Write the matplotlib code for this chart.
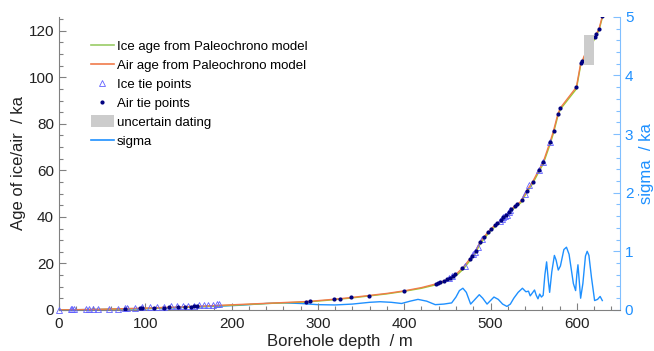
import numpy as np
import matplotlib
matplotlib.use('Agg')
import matplotlib.pyplot as plt
from matplotlib.patches import Patch
from matplotlib.lines import Line2D
from matplotlib.ticker import MultipleLocator

plt.rcParams['font.family'] = ['Liberation Sans', 'DejaVu Sans']

# age model (air), depth in m, age in ka
model_depth = [0, 50, 100, 150, 200, 250, 286, 300, 319, 338, 359, 380, 400, 420, 439,
               450, 457, 462, 467.5, 472, 477, 481.5, 488, 496, 502, 511.6, 521, 527,
               535, 542.5, 549, 556, 561, 568.8, 572.7, 578, 581, 599.5, 604.5, 606.4,
               608.3, 614, 620.9, 623, 625.6, 629.5]
air_age = [0, 0.3, 0.8, 1.4, 2.2, 3.0, 3.6, 4.0, 4.6, 5.3, 6.2, 7.1, 8.2, 9.6, 11.4,
           13.1, 14.6, 16.0, 18.0, 20.0, 22.4, 24.5, 29.2, 33.0, 35.4, 38.3, 41.9, 44.3,
           46.6, 51.6, 55.2, 60.2, 63.5, 72.0, 76.6, 84.2, 86.9, 95.8, 106.1, 107.1,
           109.0, 113.0, 117.3, 119.0, 120.7, 126.2]
ice_age = [0, 0.2, 0.6, 1.2, 2.0, 2.9, 3.4, 3.8, 4.4, 5.1, 6.0, 6.9, 8.0, 9.3, 11.0,
           12.6, 14.0, 15.3, 17.2, 19.2, 21.6, 23.8, 28.3, 32.2, 34.7, 37.7, 41.2, 43.6,
           46.0, 50.8, 54.4, 59.4, 62.7, 71.0, 75.7, 83.3, 86.3, 95.0, 105.3, 106.5,
           108.4, 112.4, 116.6, 118.4, 120.1, 125.6]

# ice tie points
ice_tie_depth = [0, 13.9, 15.8, 17.8, 32, 35, 39, 45.6, 58, 68, 76.6, 78.5, 88, 96,
                 105.6, 114, 122, 129.5, 136.5, 143.4, 150, 156.6, 162.8, 168.2, 173.2,
                 178.3, 183.7, 185.6,
                 452, 455, 470, 480, 482, 485, 490, 511, 513, 515, 517, 519, 521, 523,
                 540, 544.5, 556, 560.5, 568.5]
ice_tie_age = [0, 0.2, 0.2, 0.2, 0.3, 0.3, 0.3, 0.35, 0.5, 0.6, 0.8, 0.8, 1.0, 1.1,
               1.2, 1.3, 1.4, 1.5, 1.6, 1.7, 1.8, 1.9, 2.0, 2.1, 2.2,
               2.3, 2.4, 2.4,
               13.8, 14.6, 19.0, 24.0, 25.0, 27.0, 30.5, 38.3, 39.0, 39.8, 40.5, 41.0,
               41.9, 42.8, 50.0, 53.5, 60.0, 63.8, 72.2]

# air tie points
air_tie_depth = [77, 94, 96, 110, 122, 128, 138, 146, 153, 157, 160,
                 286, 291, 319, 326, 338, 359, 400, 437, 439, 441, 446, 450, 453, 456,
                 459, 467, 476, 479, 483, 488, 493, 497, 500, 505, 508, 512, 515, 518,
                 521, 524, 528, 531, 536, 542, 549, 556, 561, 569, 573, 578, 581, 599.5,
                 604.5, 606, 621, 622.5, 625.5, 629.5]
air_tie_age = [0.6, 0.9, 0.9, 0.9, 1.0, 1.1, 1.2, 1.3, 1.4, 1.5, 1.5,
               3.6, 3.7, 4.6, 4.8, 5.4, 6.2, 8.3, 11.3, 11.5, 11.8, 12.5, 13.3, 13.9,
               14.6, 15.3, 17.9, 22.0, 23.4, 25.5, 29.0, 31.5, 33.3, 34.6, 36.5, 37.3,
               38.6, 39.8, 40.8, 41.9, 43.2, 44.6, 45.5, 47.2, 51.2, 55.2, 60.2, 63.5,
               72.3, 77.0, 84.2, 86.8, 95.8, 106.0, 107.2, 117.4, 118.8, 120.8, 126.2]

# uncertain dating window
uncertain_depth = [608.3, 620.0]
uncertain_age = [105.4, 118.3]

# sigma of the age model
sigma_depth = [0, 30, 60, 100, 140, 180, 210, 240, 260, 280, 300, 320, 340, 360, 372,
               385, 397, 407, 416, 426, 436, 446, 455, 460, 464, 468, 472, 477, 482,
               487, 491, 496, 500, 504, 509, 514, 519, 523, 527, 532, 537, 541, 544,
               546, 549, 551, 553, 555, 557, 559, 561, 563, 565, 567, 568.5, 571, 574,
               576, 578.5, 581, 585, 588, 591, 594, 596, 598.6, 600, 601.3, 602.5,
               604.4, 607, 610, 612, 614, 617, 620.6, 624, 627, 629.5]
sigma = [0.0, 0.005, 0.01, 0.02, 0.04, 0.06, 0.08, 0.11, 0.12, 0.11, 0.09, 0.085,
         0.10, 0.13, 0.14, 0.13, 0.11, 0.15, 0.18, 0.15, 0.09, 0.10, 0.12, 0.22, 0.33,
         0.37, 0.30, 0.10, 0.18, 0.26, 0.20, 0.10, 0.16, 0.22, 0.18, 0.10, 0.06, 0.10,
         0.20, 0.30, 0.37, 0.31, 0.32, 0.24, 0.30, 0.34, 0.25, 0.19, 0.27, 0.22, 0.25,
         0.60, 0.82, 0.50, 0.30, 0.65, 0.93, 0.85, 0.68, 0.75, 1.03, 1.07, 0.95, 0.65,
         0.45, 0.33, 0.60, 0.77, 0.55, 0.20, 0.45, 0.92, 1.00, 0.93, 0.55, 0.16, 0.18,
         0.23, 0.16]

ICE_COLOR = '#9acd32'
AIR_COLOR = '#f07a4a'
SIGMA_COLOR = '#1e90ff'
GREY = '#808080'

fig = plt.figure(figsize=(6.54, 3.51), dpi=100)
ax = fig.add_axes([0.090, 0.117, 0.858, 0.835])
ax2 = ax.twinx()

ax.plot(model_depth, ice_age, color=ICE_COLOR, lw=1.0, zorder=2)
ax.plot(model_depth, air_age, color=AIR_COLOR, lw=1.0, zorder=2)
ax.plot(ice_tie_depth, ice_tie_age, '^', mfc='none', mec='#6060ff', ms=3.8, mew=0.6,
        ls='none', zorder=3, clip_on=False)
ax.plot(air_tie_depth, air_tie_age, 'o', color='#000080', ms=2.0, ls='none', zorder=4)
ax.fill_between(uncertain_depth, uncertain_age[0], uncertain_age[1], color='#cccccc',
                lw=0, zorder=5)

ax2.plot(sigma_depth, sigma, color=SIGMA_COLOR, lw=1.0)

ax.set_xlim(0, 650)
ax.set_ylim(0, 126)
ax2.set_ylim(0, 5)
ax.set_zorder(ax2.get_zorder() + 1)
ax.patch.set_visible(False)

ax.xaxis.set_major_locator(MultipleLocator(100))
ax.xaxis.set_minor_locator(MultipleLocator(20))
ax.yaxis.set_major_locator(MultipleLocator(20))
ax.yaxis.set_minor_locator(MultipleLocator(5))
ax2.yaxis.set_major_locator(MultipleLocator(1))
ax2.yaxis.set_minor_locator(MultipleLocator(0.2))

for a in (ax, ax2):
    a.spines['top'].set_visible(False)
ax.spines['right'].set_visible(False)
ax.spines['left'].set_color(GREY)
ax.spines['bottom'].set_color(GREY)
ax2.spines['left'].set_visible(False)
ax2.spines['bottom'].set_visible(False)
ax2.spines['right'].set_color('#80bfff')

ax.tick_params(which='both', direction='in', colors=GREY, labelcolor='#222222',
               labelsize=11, width=0.8)
ax.tick_params(which='major', length=5)
ax.tick_params(which='minor', length=3)
ax.tick_params(axis='x', pad=5)
ax2.tick_params(which='both', direction='in', colors='#80bfff', labelcolor=SIGMA_COLOR,
                labelsize=11, width=0.8)
ax2.tick_params(which='major', length=5)
ax2.tick_params(which='minor', length=3)

ax.set_xlabel('Borehole depth  / m', fontsize=12, color='#222222', labelpad=2.5)
ax.set_ylabel('Age of ice/air  / ka', fontsize=12, color='#222222', labelpad=2)
ax2.set_ylabel('sigma  / ka', fontsize=12, color=SIGMA_COLOR, labelpad=4)

handles = [
    Line2D([], [], color='#99cc66', lw=1.2),
    Line2D([], [], color=AIR_COLOR, lw=1.2),
    Line2D([], [], marker='^', mfc='none', mec='#6060ff', ms=3.8, mew=0.6, ls='none'),
    Line2D([], [], marker='o', color='#000080', ms=2.0, ls='none'),
    Patch(facecolor='#cccccc', edgecolor='none'),
    Line2D([], [], color=SIGMA_COLOR, lw=1.2),
]
labels = ['Ice age from Paleochrono model', 'Air age from Paleochrono model',
          'Ice tie points', 'Air tie points', 'uncertain dating', 'sigma']
ax.legend(handles, labels, loc='upper left', bbox_to_anchor=(0.036, 0.963),
          frameon=False, fontsize=9.5, handlelength=1.75, handletextpad=0.23,
          labelspacing=0.42, handleheight=1.0)

fig.savefig('out.png', dpi=100)
